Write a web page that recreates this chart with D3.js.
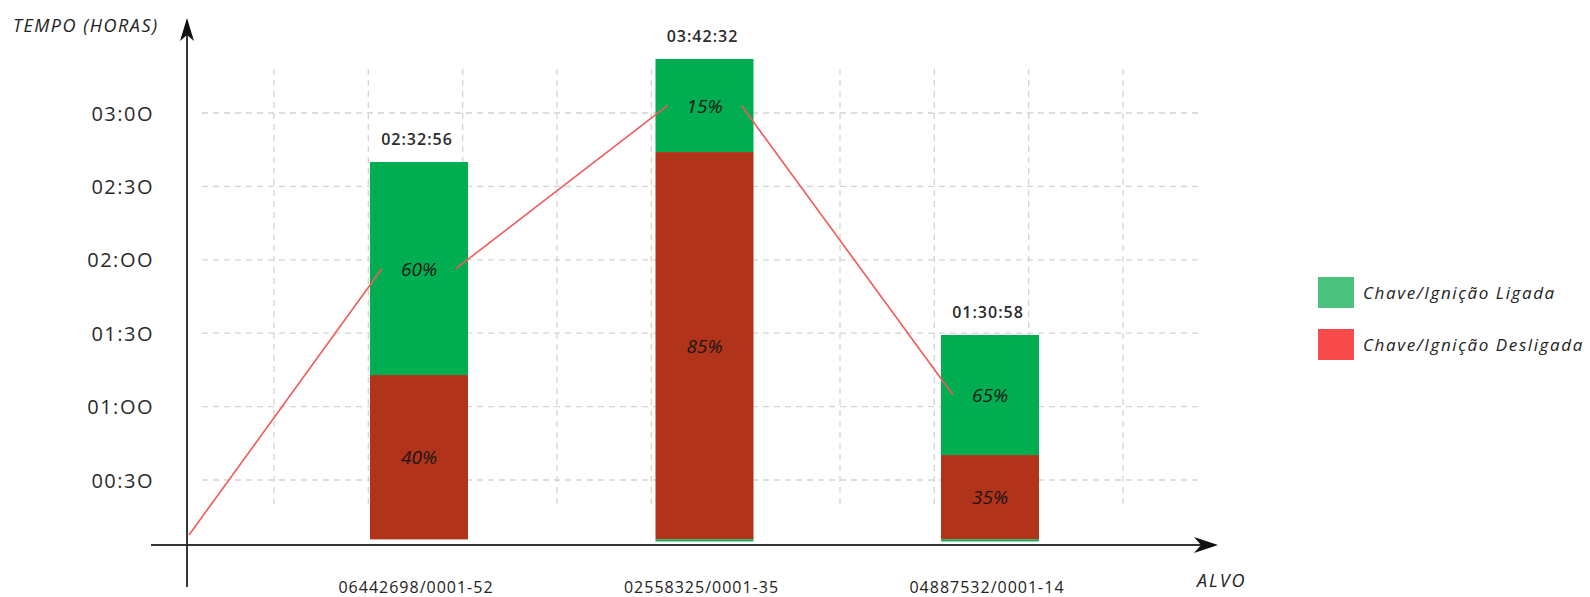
<!DOCTYPE html>
<html>
<head>
<meta charset="utf-8">
<script src="https://cdn.jsdelivr.net/npm/d3@7"></script>
<style>
  body { margin: 0; background: #fff; }
  svg { display: block; font-family: "Open Sans", sans-serif; }
</style>
</head>
<body>
<svg></svg>
<script>
const categories = ['06442698/0001-52', '02558325/0001-35', '04887532/0001-14'];
// heights as drawn, in hours
const desligadaHoras = [1.215, 2.734, 0.670];
const ligadaHoras = [1.451, 0.634, 0.818];
const desligadaPct = ['40%', '85%', '35%'];
const ligadaPct = ['60%', '15%', '65%'];
const totalLabels = ['02:32:56', '03:42:32', '01:30:58'];
const yTicks = [0.5, 1, 1.5, 2, 2.5, 3];
const yTickLabels = ['00:3O', '01:OO', '01:3O', '02:OO', '02:3O', '03:0O'];
const lineStartValue = 0.125;
const legendLabels = ['Chave/Ignição Ligada', 'Chave/Ignição Desligada'];

const width = 1590;
const height = 597;
const axisX = 187;
const barWidth = 98;
const baseInset = 14;
const labelGap = 37;

const GREEN = '#00ad50';
const RED = '#b13319';

let svg = d3.select('svg').attr('width', width).attr('height', height);

const y = d3.scaleLinear().domain([0, 3]).range([553.4, 113]);
const x = d3.scalePoint().domain(categories).range([419, 990]);
const xGrid = d3.scaleLinear().domain([0, 9]).range([274, 1123]);
const axisY = y(0) - 8.5;
const barBottom = y(0) - baseInset;

// grid
const grid = svg.append('g')
  .attr('stroke', '#d4d4d4')
  .attr('stroke-width', 1.3)
  .attr('stroke-dasharray', '6,5');
grid.selectAll('.vg').data(d3.range(10)).enter().append('line')
  .attr('x1', d => xGrid(d)).attr('x2', d => xGrid(d))
  .attr('y1', 69).attr('y2', 507);
grid.selectAll('.hg').data(yTicks).enter().append('line')
  .attr('x1', 202).attr('x2', 1200)
  .attr('y1', d => y(d)).attr('y2', d => y(d));

// y tick labels
svg.selectAll('.ytick').data(yTicks).enter().append('text')
  .attr('x', 154)
  .attr('y', d => y(d))
  .attr('text-anchor', 'end')
  .attr('dominant-baseline', 'central')
  .attr('font-size', 20)
  .attr('letter-spacing', 1.5)
  .attr('fill', '#2a2a2a')
  .text((d, i) => yTickLabels[i]);

// bars
const bars = svg.selectAll('.bar').data(categories).enter().append('g');
bars.append('rect')
  .attr('x', d => x(d) - barWidth / 2)
  .attr('width', barWidth)
  .attr('y', (d, i) => y(desligadaHoras[i] + ligadaHoras[i]))
  .attr('height', (d, i) => y(desligadaHoras[i]) - y(desligadaHoras[i] + ligadaHoras[i]))
  .attr('fill', GREEN);
bars.append('rect')
  .attr('x', d => x(d) - barWidth / 2)
  .attr('width', barWidth)
  .attr('y', (d, i) => y(desligadaHoras[i]))
  .attr('height', (d, i) => barBottom - y(desligadaHoras[i]))
  .attr('fill', RED);
// thin green edge under the red part of bars 2 and 3
bars.filter((d, i) => i > 0).append('rect')
  .attr('x', d => x(d) - barWidth / 2)
  .attr('width', barWidth)
  .attr('y', barBottom)
  .attr('height', 2)
  .attr('fill', GREEN);

// red line through the green segments
const mids = categories.map((d, i) => [x(d), y(desligadaHoras[i] + ligadaHoras[i] / 2)]);
const segs = [];
let prev = [axisX + 2, y(lineStartValue)];
mids.forEach(m => {
  segs.push([prev, [m[0] - labelGap, m[1]]]);
  prev = [m[0] + labelGap, m[1]];
});
svg.selectAll('.seg').data(segs).enter().append('path')
  .attr('d', d => d3.line()(d))
  .attr('stroke', '#f05a5a')
  .attr('stroke-width', 1.6)
  .attr('fill', 'none');

// percentage labels
bars.append('text')
  .attr('x', d => x(d))
  .attr('y', (d, i) => y(desligadaHoras[i] + ligadaHoras[i] / 2))
  .attr('text-anchor', 'middle')
  .attr('dominant-baseline', 'central')
  .attr('font-size', 19)
  .attr('font-style', 'italic')
  .attr('fill', '#161616')
  .text((d, i) => ligadaPct[i]);
bars.append('text')
  .attr('x', d => x(d))
  .attr('y', (d, i) => (y(desligadaHoras[i]) + barBottom) / 2)
  .attr('text-anchor', 'middle')
  .attr('dominant-baseline', 'central')
  .attr('font-size', 19)
  .attr('font-style', 'italic')
  .attr('fill', '#161616')
  .text((d, i) => desligadaPct[i]);

// totals
bars.append('text')
  .attr('x', d => x(d) - 2)
  .attr('y', (d, i) => y(desligadaHoras[i] + ligadaHoras[i]) - 23)
  .attr('text-anchor', 'middle')
  .attr('dominant-baseline', 'central')
  .attr('font-size', 16)
  .attr('font-weight', 600)
  .attr('letter-spacing', 1)
  .attr('fill', '#2b2b2b')
  .text((d, i) => totalLabels[i]);

// category labels
bars.append('text')
  .attr('x', d => x(d) - 3)
  .attr('y', 587)
  .attr('text-anchor', 'middle')
  .attr('dominant-baseline', 'central')
  .attr('font-size', 16)
  .attr('letter-spacing', 1)
  .attr('fill', '#222')
  .text(d => d);

// axes with arrows
svg.append('line')
  .attr('x1', 151).attr('x2', 1208)
  .attr('y1', axisY).attr('y2', axisY)
  .attr('stroke', '#333').attr('stroke-width', 2);
svg.append('line')
  .attr('x1', axisX).attr('x2', axisX)
  .attr('y1', 28).attr('y2', 587)
  .attr('stroke', '#222').attr('stroke-width', 1.8);
svg.append('path')
  .attr('d', `M1218,${axisY} L1194,${axisY - 8} L1201,${axisY} L1194,${axisY + 8} Z`)
  .attr('fill', '#111');
svg.append('path')
  .attr('d', `M${axisX},18 L${axisX - 7},41 L${axisX},35 L${axisX + 7},41 Z`)
  .attr('fill', '#111');

// axis titles
svg.append('text')
  .attr('x', 13).attr('y', 25)
  .attr('dominant-baseline', 'central')
  .attr('font-size', 18)
  .attr('font-style', 'italic')
  .attr('letter-spacing', 1.5)
  .attr('fill', '#222')
  .text('TEMPO (HORAS)');
svg.append('text')
  .attr('x', 1197).attr('y', 580)
  .attr('dominant-baseline', 'central')
  .attr('font-size', 18)
  .attr('font-style', 'italic')
  .attr('letter-spacing', 2)
  .attr('fill', '#222')
  .text('ALVO');

// legend
const legend = svg.selectAll('.legend').data(legendLabels).enter().append('g')
  .attr('transform', (d, i) => `translate(1318, ${277 + i * 52})`);
legend.append('rect')
  .attr('width', 36).attr('height', 31)
  .attr('fill', (d, i) => i == 0 ? '#4bc17e' : '#f94a4a');
legend.append('text')
  .attr('x', 45).attr('y', 15)
  .attr('dominant-baseline', 'central')
  .attr('font-size', 17)
  .attr('font-style', 'italic')
  .attr('letter-spacing', 1.6)
  .attr('fill', '#222')
  .text(d => d);
</script>
</body>
</html>
